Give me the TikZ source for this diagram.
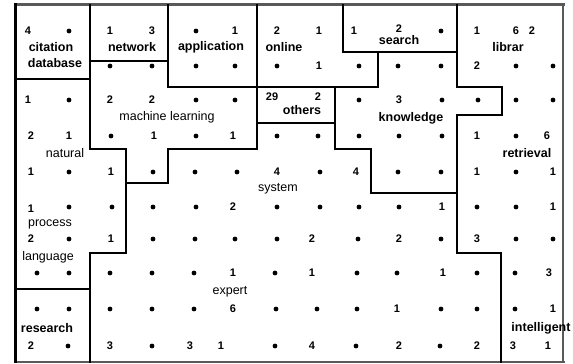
\documentclass[tikz,border=0pt]{standalone}
\usepackage{fontspec}
\setmainfont{Liberation Sans}
\def\dotsym{o}
\newcommand{\cellrow}[2]{%
  \foreach \cx/\cv in {#2}{%
    \ifx\cv\dotsym
      \node[dotmark] (m-\cx-#1) at (\cx,#1) {};
    \else
      \node[num] (m-\cx-#1) at (\cx,#1) {\cv};
    \fi}}
\begin{document}
\begin{tikzpicture}[x=1pt,y=-1pt,
  wall/.style={line width=2.3pt, line cap=rect, line join=miter},
  framew/.style={line width=2pt, draw=black!65},
  num/.style={font=\bfseries\fontsize{11}{11}\selectfont, inner sep=0pt},
  lab/.style={font=\bfseries\fontsize{12.5}{12.5}\selectfont, inner sep=0pt},
  labl/.style={font=\fontsize{12.5}{12.5}\selectfont, inner sep=0pt},
  dotmark/.style={circle, fill=black, inner sep=0pt, minimum size=4.8pt}]
\useasboundingbox (0,0) rectangle (573,364);
% frame
\draw[framew, line width=2.6pt] (15,4.5) -- (565,4.5);
\draw[framew, line width=1.4pt] (563,4) -- (563,362);
\draw[framew] (15,362) -- (565,362);
\draw[line width=3pt] (15,3) -- (15,363);
% region borders
\draw[wall] (15,79) -- (90,79);
\draw[wall] (90,5) -- (90,149) -- (126,149) -- (126,183) -- (168,183) -- (168,149)
  -- (257,149) -- (257,123) -- (335,123) -- (335,149) -- (371,149) -- (371,193) -- (457,193);
\draw[wall] (90,61) -- (168,61);
\draw[wall] (168,5) -- (168,87) -- (378,87) -- (378,52);
\draw[wall] (257,5) -- (257,123);
\draw[wall] (335,87) -- (335,123);
\draw[wall] (343,5) -- (343,52) -- (457,52);
\draw[wall] (457,5) -- (457,87) -- (502,87) -- (502,115) -- (457,115) -- (457,253)
  -- (501,253) -- (501,362);
\draw[wall] (126,183) -- (126,253) -- (90,253) -- (90,362);
\draw[wall] (15,289) -- (90,289);
% cells
\cellrow{31}{28/4,69/o,110/1,152/3,196/o,235/1,277/2,319/1,354/1,441/o,477/1,516/6,532/2}
\cellrow{29}{399/2}
\cellrow{66}{110/o,152/o,196/o,235/o,277/o,319/1,359/o,398/o,441/o,477/2,516/o,553/o}
\cellrow{100}{28/1,69/o,110/2,152/2,196/o,235/o,359/o,399/3,442/o,478/o,516/o,553/o}
\cellrow{97}{272/29,318/2}
\cellrow{136}{31/2,69/1,111/o,154/1,196/o,233/1,277/o,318/o,359/o,399/o,442/o,477/1,516/o,547/6}
\cellrow{172}{31/1,69/o,111/1,153/o,195/o,237/o,277/4,320/o,356/4,398/o,441/o,477/1,516/o,553/1}
\cellrow{207}{69/o,112/o,153/o,196/o,233/2,277/o,320/o,359/o,399/o,442/1,477/o,516/o,553/1}
\cellrow{209}{31/1}
\cellrow{239}{31/2,69/o,111/1,153/o,195/o,235/o,277/o,312/2,358/o,399/2,441/o,477/3,516/o,553/o}
\cellrow{273}{37/o,69/o,110/o,152/o,194/o,233/1,275/o,312/1,357/o,397/o,443/1,477/o,515/o,549/3}
\cellrow{309}{37/o,69/o,110/o,152/o,194/o,233/6,276/o,317/o,357/o,397/1,441/o,477/o,515/o,553/1}
\cellrow{346}{31/2,68/o,110/3,152/o,190/3,221/1,275/o,312/4,356/o,399/2,440/o,477/2,513/3,548/1}
% labels
\node[lab] (citation) at (51,47) {citation};
\node[lab] (database) at (55,63) {database};
\node[lab] (network) at (132,47) {network};
\node[lab] (application) at (211,47) {application};
\node[lab] (online) at (284,47) {online};
\node[lab] (search) at (399,40) {search};
\node[lab] (librar) at (508,47) {librar};
\node[labl] (machine) at (167,117) {machine learning};
\node[lab] (others) at (302,110) {others};
\node[lab] (knowledge) at (411,118) {knowledge};
\node[labl] (natural) at (65,153) {natural};
\node[lab] (retrieval) at (527,153) {retrieval};
\node[labl] (system) at (278,189) {system};
\node[labl] (process) at (50,224) {process};
\node[labl] (language) at (48,257) {language};
\node[labl] (expert) at (230,292) {expert};
\node[lab] (research) at (47,328) {research};
\node[lab] (intelligent) at (541,328) {intelligent};
\end{tikzpicture}
\end{document}
